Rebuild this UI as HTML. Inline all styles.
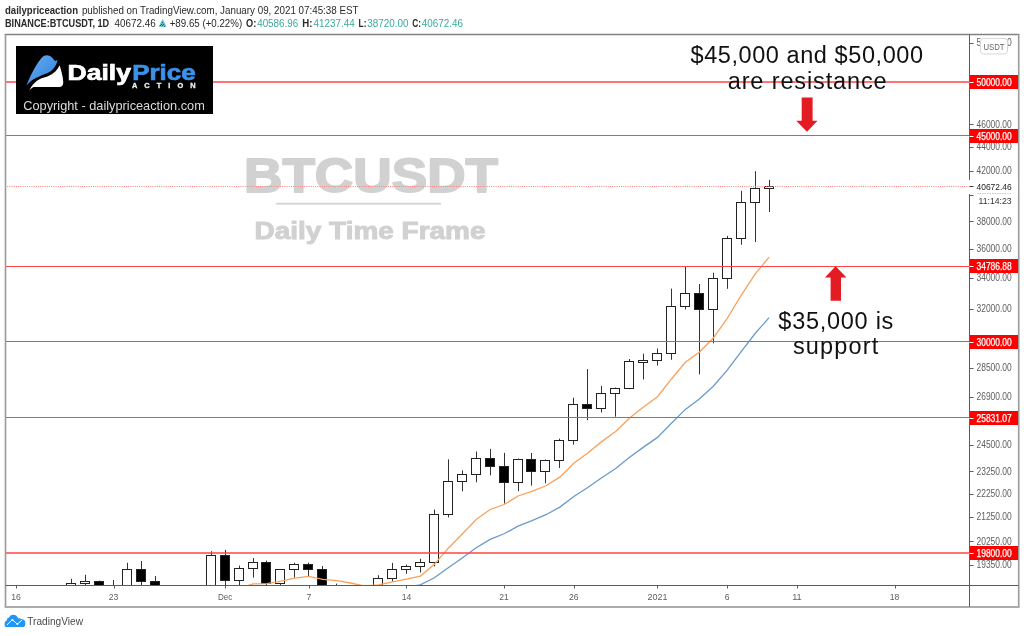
<!DOCTYPE html>
<html><head><meta charset="utf-8"><style>html,body{margin:0;padding:0;background:#fff;width:1024px;height:636px;overflow:hidden;position:relative}</style></head>
<body>
<svg width="1024" height="636" viewBox="0 0 1024 636" style="position:absolute;left:0;top:0;font-family:'Liberation Sans', sans-serif;will-change:transform"><defs><linearGradient id="bg" x1="0" y1="0" x2="1" y2="1"><stop offset="0" stop-color="#6aaef2"/><stop offset="1" stop-color="#2a80dc"/></linearGradient><clipPath id="cp"><rect x="6" y="35" width="963" height="550"/></clipPath></defs><rect x="0" y="0" width="1024" height="636" fill="#fff"/><text x="5" y="13.8" font-size="10.5" font-weight="bold" fill="#2a2a2a" text-anchor="start" textLength="73" lengthAdjust="spacingAndGlyphs" >dailypriceaction</text><text x="81.9" y="13.8" font-size="10.5" font-weight="normal" fill="#2a2a2a" text-anchor="start" textLength="276.6" lengthAdjust="spacingAndGlyphs" >published on TradingView.com, January 09, 2021 07:45:38 EST</text><text x="5" y="27.2" font-size="10.5" font-weight="bold" fill="#2a2a2a" text-anchor="start" textLength="104.2" lengthAdjust="spacingAndGlyphs" >BINANCE:BTCUSDT, 1D</text><text x="114.6" y="27.2" font-size="10.5" font-weight="normal" fill="#2a2a2a" text-anchor="start" textLength="41.1" lengthAdjust="spacingAndGlyphs" >40672.46</text><path d="M158.6,26.8 L162.6,19 L166.6,26.8 Z" fill="#5cc4b0"/><g fill="#2150b8"><rect x="162" y="22" width="1" height="1"/><rect x="161" y="24" width="1" height="1"/><rect x="163" y="24" width="1" height="1"/><rect x="160" y="25" width="1" height="1"/><rect x="162" y="25" width="1" height="1"/><rect x="164" y="26" width="1" height="1"/></g><text x="169.7" y="27.2" font-size="10.5" font-weight="normal" fill="#2a2a2a" text-anchor="start" textLength="72.5" lengthAdjust="spacingAndGlyphs" >+89.65 (+0.22%)</text><text x="246.1" y="27.2" font-size="10.5" font-weight="bold" fill="#2a2a2a" text-anchor="start" textLength="10.2" lengthAdjust="spacingAndGlyphs" >O:</text><text x="257.2" y="27.2" font-size="10.5" font-weight="normal" fill="#3aaa9c" text-anchor="start" textLength="41" lengthAdjust="spacingAndGlyphs" >40586.96</text><text x="302.3" y="27.2" font-size="10.5" font-weight="bold" fill="#2a2a2a" text-anchor="start" textLength="10.2" lengthAdjust="spacingAndGlyphs" >H:</text><text x="313.4" y="27.2" font-size="10.5" font-weight="normal" fill="#3aaa9c" text-anchor="start" textLength="41.3" lengthAdjust="spacingAndGlyphs" >41237.44</text><text x="358.6" y="27.2" font-size="10.5" font-weight="bold" fill="#2a2a2a" text-anchor="start" textLength="7.9" lengthAdjust="spacingAndGlyphs" >L:</text><text x="367.3" y="27.2" font-size="10.5" font-weight="normal" fill="#3aaa9c" text-anchor="start" textLength="41.3" lengthAdjust="spacingAndGlyphs" >38720.00</text><text x="412.2" y="27.2" font-size="10.5" font-weight="bold" fill="#2a2a2a" text-anchor="start" textLength="8.8" lengthAdjust="spacingAndGlyphs" >C:</text><text x="421.8" y="27.2" font-size="10.5" font-weight="normal" fill="#3aaa9c" text-anchor="start" textLength="41.3" lengthAdjust="spacingAndGlyphs" >40672.46</text><g clip-path="url(#cp)"><text x="244" y="192.1" font-size="47.8" font-weight="bold" fill="#d1d1d1" text-anchor="start" textLength="254" lengthAdjust="spacingAndGlyphs" stroke="#d1d1d1" stroke-width="1.8" stroke-linejoin="round">BTCUSDT</text><rect x="276" y="202.7" width="165" height="2" fill="#d6d6d6"/><text x="254.5" y="238.7" font-size="24.2" font-weight="bold" fill="#d1d1d1" text-anchor="start" textLength="231" lengthAdjust="spacingAndGlyphs" stroke="#d1d1d1" stroke-width="1" stroke-linejoin="round">Daily Time Frame</text><line x1="15.5" y1="630.4" x2="15.5" y2="639.5" stroke="#333" stroke-width="1"/><line x1="15.5" y1="641.5" x2="15.5" y2="664.4" stroke="#333" stroke-width="1"/><rect x="10.5" y="639.5" width="9" height="2.0" fill="#fff" stroke="#222" stroke-width="1"/><line x1="29.5" y1="605.3" x2="29.5" y2="611.5" stroke="#333" stroke-width="1"/><line x1="29.5" y1="639.5" x2="29.5" y2="643.8" stroke="#333" stroke-width="1"/><rect x="24.5" y="611.5" width="9" height="28.0" fill="#fff" stroke="#222" stroke-width="1"/><line x1="43.5" y1="588.0" x2="43.5" y2="607.5" stroke="#333" stroke-width="1"/><line x1="43.5" y1="611.5" x2="43.5" y2="623.8" stroke="#333" stroke-width="1"/><rect x="38.5" y="607.5" width="9" height="4.0" fill="#fff" stroke="#222" stroke-width="1"/><line x1="57.5" y1="596.3" x2="57.5" y2="606.5" stroke="#333" stroke-width="1"/><line x1="57.5" y1="608.5" x2="57.5" y2="620.4" stroke="#333" stroke-width="1"/><rect x="52.5" y="606.5" width="9" height="2.0" fill="#fff" stroke="#222" stroke-width="1"/><line x1="71.5" y1="578.8" x2="71.5" y2="583.5" stroke="#333" stroke-width="1"/><line x1="71.5" y1="606.5" x2="71.5" y2="608.7" stroke="#333" stroke-width="1"/><rect x="66.5" y="583.5" width="9" height="23.0" fill="#fff" stroke="#222" stroke-width="1"/><line x1="85.5" y1="574.8" x2="85.5" y2="581.5" stroke="#333" stroke-width="1"/><line x1="85.5" y1="583.5" x2="85.5" y2="590.1" stroke="#333" stroke-width="1"/><rect x="80.5" y="581.5" width="9" height="2.0" fill="#fff" stroke="#222" stroke-width="1"/><line x1="99.5" y1="580.6" x2="99.5" y2="581.5" stroke="#333" stroke-width="1"/><line x1="99.5" y1="589.5" x2="99.5" y2="612.4" stroke="#333" stroke-width="1"/><rect x="94.5" y="581.5" width="9" height="8.0" fill="#000" stroke="#222" stroke-width="1"/><line x1="113.5" y1="580.0" x2="113.5" y2="589.5" stroke="#333" stroke-width="1"/><line x1="113.5" y1="591.5" x2="113.5" y2="601.3" stroke="#333" stroke-width="1"/><rect x="108.5" y="589.5" width="9" height="2.0" fill="#000" stroke="#222" stroke-width="1"/><line x1="127.5" y1="562.8" x2="127.5" y2="569.5" stroke="#333" stroke-width="1"/><line x1="127.5" y1="591.5" x2="127.5" y2="600.8" stroke="#333" stroke-width="1"/><rect x="122.5" y="569.5" width="9" height="22.0" fill="#fff" stroke="#222" stroke-width="1"/><line x1="141.5" y1="561.0" x2="141.5" y2="569.5" stroke="#333" stroke-width="1"/><line x1="141.5" y1="581.5" x2="141.5" y2="585.6" stroke="#333" stroke-width="1"/><rect x="136.5" y="569.5" width="9" height="12.0" fill="#000" stroke="#222" stroke-width="1"/><line x1="155.5" y1="576.1" x2="155.5" y2="581.5" stroke="#333" stroke-width="1"/><line x1="155.5" y1="625.5" x2="155.5" y2="655.2" stroke="#333" stroke-width="1"/><rect x="150.5" y="581.5" width="9" height="44.0" fill="#000" stroke="#222" stroke-width="1"/><line x1="169.5" y1="616.9" x2="169.5" y2="625.5" stroke="#333" stroke-width="1"/><line x1="169.5" y1="627.5" x2="169.5" y2="647.4" stroke="#333" stroke-width="1"/><rect x="164.5" y="625.5" width="9" height="2.0" fill="#000" stroke="#222" stroke-width="1"/><line x1="183.5" y1="604.1" x2="183.5" y2="609.5" stroke="#333" stroke-width="1"/><line x1="183.5" y1="626.5" x2="183.5" y2="634.0" stroke="#333" stroke-width="1"/><rect x="178.5" y="609.5" width="9" height="17.0" fill="#fff" stroke="#222" stroke-width="1"/><line x1="197.5" y1="591.7" x2="197.5" y2="596.5" stroke="#333" stroke-width="1"/><line x1="197.5" y1="609.5" x2="197.5" y2="615.0" stroke="#333" stroke-width="1"/><rect x="192.5" y="596.5" width="9" height="13.0" fill="#fff" stroke="#222" stroke-width="1"/><line x1="211.5" y1="551.2" x2="211.5" y2="555.5" stroke="#333" stroke-width="1"/><line x1="211.5" y1="596.5" x2="211.5" y2="596.1" stroke="#333" stroke-width="1"/><rect x="206.5" y="555.5" width="9" height="41.0" fill="#fff" stroke="#222" stroke-width="1"/><line x1="225.5" y1="549.8" x2="225.5" y2="555.5" stroke="#333" stroke-width="1"/><line x1="225.5" y1="580.5" x2="225.5" y2="598.5" stroke="#333" stroke-width="1"/><rect x="220.5" y="555.5" width="9" height="25.0" fill="#000" stroke="#222" stroke-width="1"/><line x1="239.5" y1="565.6" x2="239.5" y2="568.5" stroke="#333" stroke-width="1"/><line x1="239.5" y1="580.5" x2="239.5" y2="592.1" stroke="#333" stroke-width="1"/><rect x="234.5" y="568.5" width="9" height="12.0" fill="#fff" stroke="#222" stroke-width="1"/><line x1="253.5" y1="558.0" x2="253.5" y2="562.5" stroke="#333" stroke-width="1"/><line x1="253.5" y1="568.5" x2="253.5" y2="577.6" stroke="#333" stroke-width="1"/><rect x="248.5" y="562.5" width="9" height="6.0" fill="#fff" stroke="#222" stroke-width="1"/><line x1="266.5" y1="560.6" x2="266.5" y2="562.5" stroke="#333" stroke-width="1"/><line x1="266.5" y1="583.5" x2="266.5" y2="585.5" stroke="#333" stroke-width="1"/><rect x="261.5" y="562.5" width="9" height="21.0" fill="#000" stroke="#222" stroke-width="1"/><line x1="280.5" y1="569.1" x2="280.5" y2="569.5" stroke="#333" stroke-width="1"/><line x1="280.5" y1="583.5" x2="280.5" y2="587.4" stroke="#333" stroke-width="1"/><rect x="275.5" y="569.5" width="9" height="14.0" fill="#fff" stroke="#222" stroke-width="1"/><line x1="294.5" y1="562.7" x2="294.5" y2="564.5" stroke="#333" stroke-width="1"/><line x1="294.5" y1="569.5" x2="294.5" y2="577.7" stroke="#333" stroke-width="1"/><rect x="289.5" y="564.5" width="9" height="5.0" fill="#fff" stroke="#222" stroke-width="1"/><line x1="308.5" y1="562.7" x2="308.5" y2="564.5" stroke="#333" stroke-width="1"/><line x1="308.5" y1="569.5" x2="308.5" y2="576.5" stroke="#333" stroke-width="1"/><rect x="303.5" y="564.5" width="9" height="5.0" fill="#000" stroke="#222" stroke-width="1"/><line x1="322.5" y1="566.0" x2="322.5" y2="569.5" stroke="#333" stroke-width="1"/><line x1="322.5" y1="592.5" x2="322.5" y2="595.7" stroke="#333" stroke-width="1"/><rect x="317.5" y="569.5" width="9" height="23.0" fill="#000" stroke="#222" stroke-width="1"/><line x1="336.5" y1="583.6" x2="336.5" y2="586.5" stroke="#333" stroke-width="1"/><line x1="336.5" y1="592.5" x2="336.5" y2="611.3" stroke="#333" stroke-width="1"/><rect x="331.5" y="586.5" width="9" height="6.0" fill="#fff" stroke="#222" stroke-width="1"/><line x1="350.5" y1="585.8" x2="350.5" y2="586.5" stroke="#333" stroke-width="1"/><line x1="350.5" y1="594.5" x2="350.5" y2="603.8" stroke="#333" stroke-width="1"/><rect x="345.5" y="586.5" width="9" height="8.0" fill="#000" stroke="#222" stroke-width="1"/><line x1="364.5" y1="593.1" x2="364.5" y2="594.5" stroke="#333" stroke-width="1"/><line x1="364.5" y1="600.5" x2="364.5" y2="613.5" stroke="#333" stroke-width="1"/><rect x="359.5" y="594.5" width="9" height="6.0" fill="#000" stroke="#222" stroke-width="1"/><line x1="378.5" y1="575.2" x2="378.5" y2="578.5" stroke="#333" stroke-width="1"/><line x1="378.5" y1="600.5" x2="378.5" y2="600.7" stroke="#333" stroke-width="1"/><rect x="373.5" y="578.5" width="9" height="22.0" fill="#fff" stroke="#222" stroke-width="1"/><line x1="392.5" y1="562.9" x2="392.5" y2="569.5" stroke="#333" stroke-width="1"/><line x1="392.5" y1="578.5" x2="392.5" y2="581.6" stroke="#333" stroke-width="1"/><rect x="387.5" y="569.5" width="9" height="9.0" fill="#fff" stroke="#222" stroke-width="1"/><line x1="406.5" y1="564.6" x2="406.5" y2="566.5" stroke="#333" stroke-width="1"/><line x1="406.5" y1="569.5" x2="406.5" y2="573.8" stroke="#333" stroke-width="1"/><rect x="401.5" y="566.5" width="9" height="3.0" fill="#fff" stroke="#222" stroke-width="1"/><line x1="420.5" y1="558.8" x2="420.5" y2="562.5" stroke="#333" stroke-width="1"/><line x1="420.5" y1="566.5" x2="420.5" y2="572.5" stroke="#333" stroke-width="1"/><rect x="415.5" y="562.5" width="9" height="4.0" fill="#fff" stroke="#222" stroke-width="1"/><line x1="434.5" y1="509.6" x2="434.5" y2="514.5" stroke="#333" stroke-width="1"/><line x1="434.5" y1="562.5" x2="434.5" y2="566.4" stroke="#333" stroke-width="1"/><rect x="429.5" y="514.5" width="9" height="48.0" fill="#fff" stroke="#222" stroke-width="1"/><line x1="448.5" y1="459.3" x2="448.5" y2="481.5" stroke="#333" stroke-width="1"/><line x1="448.5" y1="514.5" x2="448.5" y2="517.4" stroke="#333" stroke-width="1"/><rect x="443.5" y="481.5" width="9" height="33.0" fill="#fff" stroke="#222" stroke-width="1"/><line x1="462.5" y1="470.4" x2="462.5" y2="474.5" stroke="#333" stroke-width="1"/><line x1="462.5" y1="481.5" x2="462.5" y2="491.3" stroke="#333" stroke-width="1"/><rect x="457.5" y="474.5" width="9" height="7.0" fill="#fff" stroke="#222" stroke-width="1"/><line x1="476.5" y1="451.5" x2="476.5" y2="458.5" stroke="#333" stroke-width="1"/><line x1="476.5" y1="474.5" x2="476.5" y2="482.3" stroke="#333" stroke-width="1"/><rect x="471.5" y="458.5" width="9" height="16.0" fill="#fff" stroke="#222" stroke-width="1"/><line x1="490.5" y1="448.9" x2="490.5" y2="458.5" stroke="#333" stroke-width="1"/><line x1="490.5" y1="466.5" x2="490.5" y2="475.4" stroke="#333" stroke-width="1"/><rect x="485.5" y="458.5" width="9" height="8.0" fill="#000" stroke="#222" stroke-width="1"/><line x1="504.5" y1="452.9" x2="504.5" y2="466.5" stroke="#333" stroke-width="1"/><line x1="504.5" y1="482.5" x2="504.5" y2="503.6" stroke="#333" stroke-width="1"/><rect x="499.5" y="466.5" width="9" height="16.0" fill="#000" stroke="#222" stroke-width="1"/><line x1="518.5" y1="458.5" x2="518.5" y2="459.5" stroke="#333" stroke-width="1"/><line x1="518.5" y1="482.5" x2="518.5" y2="491.2" stroke="#333" stroke-width="1"/><rect x="513.5" y="459.5" width="9" height="23.0" fill="#fff" stroke="#222" stroke-width="1"/><line x1="531.5" y1="453.0" x2="531.5" y2="459.5" stroke="#333" stroke-width="1"/><line x1="531.5" y1="471.5" x2="531.5" y2="485.6" stroke="#333" stroke-width="1"/><rect x="526.5" y="459.5" width="9" height="12.0" fill="#000" stroke="#222" stroke-width="1"/><line x1="545.5" y1="459.5" x2="545.5" y2="460.5" stroke="#333" stroke-width="1"/><line x1="545.5" y1="471.5" x2="545.5" y2="483.3" stroke="#333" stroke-width="1"/><rect x="540.5" y="460.5" width="9" height="11.0" fill="#fff" stroke="#222" stroke-width="1"/><line x1="559.5" y1="438.6" x2="559.5" y2="440.5" stroke="#333" stroke-width="1"/><line x1="559.5" y1="460.5" x2="559.5" y2="467.9" stroke="#333" stroke-width="1"/><rect x="554.5" y="440.5" width="9" height="20.0" fill="#fff" stroke="#222" stroke-width="1"/><line x1="573.5" y1="397.7" x2="573.5" y2="404.5" stroke="#333" stroke-width="1"/><line x1="573.5" y1="440.5" x2="573.5" y2="444.6" stroke="#333" stroke-width="1"/><rect x="568.5" y="404.5" width="9" height="36.0" fill="#fff" stroke="#222" stroke-width="1"/><line x1="587.5" y1="369.1" x2="587.5" y2="404.5" stroke="#333" stroke-width="1"/><line x1="587.5" y1="408.5" x2="587.5" y2="420.3" stroke="#333" stroke-width="1"/><rect x="582.5" y="404.5" width="9" height="4.0" fill="#000" stroke="#222" stroke-width="1"/><line x1="601.5" y1="385.9" x2="601.5" y2="393.5" stroke="#333" stroke-width="1"/><line x1="601.5" y1="408.5" x2="601.5" y2="412.4" stroke="#333" stroke-width="1"/><rect x="596.5" y="393.5" width="9" height="15.0" fill="#fff" stroke="#222" stroke-width="1"/><line x1="615.5" y1="387.5" x2="615.5" y2="388.5" stroke="#333" stroke-width="1"/><line x1="615.5" y1="393.5" x2="615.5" y2="416.7" stroke="#333" stroke-width="1"/><rect x="610.5" y="388.5" width="9" height="5.0" fill="#fff" stroke="#222" stroke-width="1"/><line x1="629.5" y1="359.0" x2="629.5" y2="361.5" stroke="#333" stroke-width="1"/><line x1="629.5" y1="388.5" x2="629.5" y2="389.2" stroke="#333" stroke-width="1"/><rect x="624.5" y="361.5" width="9" height="27.0" fill="#fff" stroke="#222" stroke-width="1"/><line x1="643.5" y1="353.7" x2="643.5" y2="360.5" stroke="#333" stroke-width="1"/><line x1="643.5" y1="362.5" x2="643.5" y2="379.5" stroke="#333" stroke-width="1"/><rect x="638.5" y="360.5" width="9" height="2.0" fill="#fff" stroke="#222" stroke-width="1"/><line x1="657.5" y1="348.5" x2="657.5" y2="353.5" stroke="#333" stroke-width="1"/><line x1="657.5" y1="360.5" x2="657.5" y2="365.5" stroke="#333" stroke-width="1"/><rect x="652.5" y="353.5" width="9" height="7.0" fill="#fff" stroke="#222" stroke-width="1"/><line x1="671.5" y1="288.6" x2="671.5" y2="306.5" stroke="#333" stroke-width="1"/><line x1="671.5" y1="353.5" x2="671.5" y2="359.8" stroke="#333" stroke-width="1"/><rect x="666.5" y="306.5" width="9" height="47.0" fill="#fff" stroke="#222" stroke-width="1"/><line x1="685.5" y1="266.5" x2="685.5" y2="293.5" stroke="#333" stroke-width="1"/><line x1="685.5" y1="306.5" x2="685.5" y2="309.4" stroke="#333" stroke-width="1"/><rect x="680.5" y="293.5" width="9" height="13.0" fill="#fff" stroke="#222" stroke-width="1"/><line x1="699.5" y1="284.0" x2="699.5" y2="293.5" stroke="#333" stroke-width="1"/><line x1="699.5" y1="309.5" x2="699.5" y2="374.4" stroke="#333" stroke-width="1"/><rect x="694.5" y="293.5" width="9" height="16.0" fill="#000" stroke="#222" stroke-width="1"/><line x1="713.5" y1="272.7" x2="713.5" y2="278.5" stroke="#333" stroke-width="1"/><line x1="713.5" y1="309.5" x2="713.5" y2="343.3" stroke="#333" stroke-width="1"/><rect x="708.5" y="278.5" width="9" height="31.0" fill="#fff" stroke="#222" stroke-width="1"/><line x1="727.5" y1="235.9" x2="727.5" y2="238.5" stroke="#333" stroke-width="1"/><line x1="727.5" y1="278.5" x2="727.5" y2="288.8" stroke="#333" stroke-width="1"/><rect x="722.5" y="238.5" width="9" height="40.0" fill="#fff" stroke="#222" stroke-width="1"/><line x1="741.5" y1="190.8" x2="741.5" y2="202.5" stroke="#333" stroke-width="1"/><line x1="741.5" y1="238.5" x2="741.5" y2="244.8" stroke="#333" stroke-width="1"/><rect x="736.5" y="202.5" width="9" height="36.0" fill="#fff" stroke="#222" stroke-width="1"/><line x1="755.5" y1="171.2" x2="755.5" y2="188.5" stroke="#333" stroke-width="1"/><line x1="755.5" y1="202.5" x2="755.5" y2="242.0" stroke="#333" stroke-width="1"/><rect x="750.5" y="188.5" width="9" height="14.0" fill="#fff" stroke="#222" stroke-width="1"/><line x1="769.5" y1="179.9" x2="769.5" y2="186.5" stroke="#333" stroke-width="1"/><line x1="769.5" y1="188.5" x2="769.5" y2="212.0" stroke="#333" stroke-width="1"/><rect x="764.5" y="186.5" width="9" height="2.0" fill="#fff" stroke="#222" stroke-width="1"/><polyline points="15.93,667.32 29.88,656.61 43.82,647.35 57.77,639.75 71.72,628.97 85.66,620.07 99.61,614.42 113.56,610.09 127.51,602.47 141.45,598.57 155.40,603.43 169.35,607.50 183.29,607.82 197.24,605.67 211.19,596.18 225.13,593.23 239.08,588.62 253.03,583.80 266.98,583.70 280.92,581.17 294.87,578.06 308.82,576.47 322.76,579.30 336.71,580.56 350.66,583.01 364.60,586.11 378.55,584.81 392.50,581.93 406.45,579.10 420.39,576.05 434.34,564.37 448.29,548.20 462.23,533.95 476.18,519.45 490.13,509.46 504.07,504.53 518.02,495.97 531.97,491.45 545.92,485.75 559.86,477.16 573.81,463.22 587.76,452.91 601.70,441.62 615.65,431.45 629.60,417.91 643.54,406.92 657.49,396.71 671.44,378.97 685.39,362.26 699.33,352.16 713.28,338.01 727.23,318.35 741.17,295.27 755.12,274.02 769.07,257.04" fill="none" stroke="#f9a15a" stroke-width="1.3"/><polyline points="15.93,691.99 29.88,683.70 43.82,675.94 57.77,668.95 71.72,660.12 85.66,652.12 99.61,645.84 113.56,640.36 127.51,633.17 141.45,628.01 155.40,627.81 169.35,627.65 183.29,625.87 197.24,622.96 211.19,616.14 225.13,612.60 239.08,608.22 253.03,603.70 266.98,601.72 280.92,598.60 294.87,595.23 308.82,592.72 322.76,592.67 336.71,592.06 350.66,592.26 364.60,593.02 378.55,591.66 392.50,589.48 406.45,587.25 420.39,584.84 434.34,577.75 448.29,567.73 462.23,558.06 476.18,547.73 490.13,539.44 504.07,533.78 518.02,526.18 531.97,520.72 545.92,514.71 559.86,507.12 573.81,496.45 587.76,487.43 601.70,477.72 615.65,468.46 629.60,457.20 643.54,447.13 657.49,437.39 671.44,423.31 685.39,409.38 699.33,398.92 713.28,386.18 727.23,370.08 741.17,351.54 755.12,333.51 769.07,317.58" fill="none" stroke="#6a9acb" stroke-width="1.3"/><line x1="5" y1="82.0" x2="969.5" y2="82.0" stroke="#ff4545" stroke-width="1.5"/><line x1="5" y1="135.5" x2="969.5" y2="135.5" stroke="#ff4545" stroke-width="1"/><line x1="5" y1="266.5" x2="969.5" y2="266.5" stroke="#ff4545" stroke-width="1"/><line x1="5" y1="341.5" x2="969.5" y2="341.5" stroke="#ff4545" stroke-width="1"/><line x1="5" y1="417.5" x2="969.5" y2="417.5" stroke="#ff4545" stroke-width="1"/><line x1="5" y1="553.0" x2="969.5" y2="553.0" stroke="#ff4545" stroke-width="1.5"/><line x1="5" y1="186.5" x2="969.5" y2="186.5" stroke="#ff8080" stroke-width="1" stroke-dasharray="1 1.2"/></g><line x1="4.7" y1="34.5" x2="1019.3" y2="34.5" stroke="#828282" stroke-width="1.3"/><line x1="5.5" y1="34" x2="5.5" y2="607.5" stroke="#9a9a9a" stroke-width="1.6"/><line x1="1018.7" y1="34" x2="1018.7" y2="607.5" stroke="#9a9a9a" stroke-width="1.6"/><line x1="4.7" y1="607" x2="1019.5" y2="607" stroke="#ababab" stroke-width="2"/><line x1="969.5" y1="34.5" x2="969.5" y2="606.5" stroke="#5c5c5c" stroke-width="1"/><line x1="5.5" y1="585.5" x2="1018.5" y2="585.5" stroke="#5c5c5c" stroke-width="1"/><line x1="969.5" y1="43.5" x2="973.5" y2="43.5" stroke="#5c5c5c" stroke-width="1"/><text x="976.5" y="46.18070279050597" font-size="10.4" font-weight="normal" fill="#5e5e5e" text-anchor="start" textLength="35.2" lengthAdjust="spacingAndGlyphs" >54000.00</text><line x1="969.5" y1="124.5" x2="973.5" y2="124.5" stroke="#5c5c5c" stroke-width="1"/><text x="976.5" y="127.68287182371962" font-size="10.4" font-weight="normal" fill="#5e5e5e" text-anchor="start" textLength="35.2" lengthAdjust="spacingAndGlyphs" >46000.00</text><line x1="969.5" y1="147.5" x2="973.5" y2="147.5" stroke="#5c5c5c" stroke-width="1"/><text x="976.5" y="150.27770273847455" font-size="10.4" font-weight="normal" fill="#5e5e5e" text-anchor="start" textLength="35.2" lengthAdjust="spacingAndGlyphs" >44000.00</text><line x1="969.5" y1="171.5" x2="973.5" y2="171.5" stroke="#5c5c5c" stroke-width="1"/><text x="976.5" y="173.92382668569053" font-size="10.4" font-weight="normal" fill="#5e5e5e" text-anchor="start" textLength="35.2" lengthAdjust="spacingAndGlyphs" >42000.00</text><line x1="969.5" y1="221.5" x2="973.5" y2="221.5" stroke="#5c5c5c" stroke-width="1"/><text x="976.5" y="224.7962486702048" font-size="10.4" font-weight="normal" fill="#5e5e5e" text-anchor="start" textLength="35.2" lengthAdjust="spacingAndGlyphs" >38000.00</text><line x1="969.5" y1="249.5" x2="973.5" y2="249.5" stroke="#5c5c5c" stroke-width="1"/><text x="976.5" y="252.27861724188594" font-size="10.4" font-weight="normal" fill="#5e5e5e" text-anchor="start" textLength="35.2" lengthAdjust="spacingAndGlyphs" >36000.00</text><line x1="969.5" y1="278.5" x2="973.5" y2="278.5" stroke="#5c5c5c" stroke-width="1"/><text x="976.5" y="281.33223899673186" font-size="10.4" font-weight="normal" fill="#5e5e5e" text-anchor="start" textLength="35.2" lengthAdjust="spacingAndGlyphs" >34000.00</text><line x1="969.5" y1="309.5" x2="973.5" y2="309.5" stroke="#5c5c5c" stroke-width="1"/><text x="976.5" y="312.1477342660257" font-size="10.4" font-weight="normal" fill="#5e5e5e" text-anchor="start" textLength="35.2" lengthAdjust="spacingAndGlyphs" >32000.00</text><line x1="969.5" y1="368.5" x2="973.5" y2="368.5" stroke="#5c5c5c" stroke-width="1"/><text x="976.5" y="371.025046097445" font-size="10.4" font-weight="normal" fill="#5e5e5e" text-anchor="start" textLength="35.2" lengthAdjust="spacingAndGlyphs" >28500.00</text><line x1="969.5" y1="397.5" x2="973.5" y2="397.5" stroke="#5c5c5c" stroke-width="1"/><text x="976.5" y="400.39350217638525" font-size="10.4" font-weight="normal" fill="#5e5e5e" text-anchor="start" textLength="35.2" lengthAdjust="spacingAndGlyphs" >26900.00</text><line x1="969.5" y1="445.5" x2="973.5" y2="445.5" stroke="#5c5c5c" stroke-width="1"/><text x="976.5" y="447.8957480081154" font-size="10.4" font-weight="normal" fill="#5e5e5e" text-anchor="start" textLength="35.2" lengthAdjust="spacingAndGlyphs" >24500.00</text><line x1="969.5" y1="471.5" x2="973.5" y2="471.5" stroke="#5c5c5c" stroke-width="1"/><text x="976.5" y="474.5143950465671" font-size="10.4" font-weight="normal" fill="#5e5e5e" text-anchor="start" textLength="35.2" lengthAdjust="spacingAndGlyphs" >23250.00</text><line x1="969.5" y1="494.5" x2="973.5" y2="494.5" stroke="#5c5c5c" stroke-width="1"/><text x="976.5" y="496.8608506815204" font-size="10.4" font-weight="normal" fill="#5e5e5e" text-anchor="start" textLength="35.2" lengthAdjust="spacingAndGlyphs" >22250.00</text><line x1="969.5" y1="517.5" x2="973.5" y2="517.5" stroke="#5c5c5c" stroke-width="1"/><text x="976.5" y="520.2350837423392" font-size="10.4" font-weight="normal" fill="#5e5e5e" text-anchor="start" textLength="35.2" lengthAdjust="spacingAndGlyphs" >21250.00</text><line x1="969.5" y1="541.5" x2="973.5" y2="541.5" stroke="#5c5c5c" stroke-width="1"/><text x="976.5" y="544.7362120963663" font-size="10.4" font-weight="normal" fill="#5e5e5e" text-anchor="start" textLength="35.2" lengthAdjust="spacingAndGlyphs" >20250.00</text><line x1="969.5" y1="565.5" x2="973.5" y2="565.5" stroke="#5c5c5c" stroke-width="1"/><text x="976.5" y="567.8447368395821" font-size="10.4" font-weight="normal" fill="#5e5e5e" text-anchor="start" textLength="35.2" lengthAdjust="spacingAndGlyphs" >19350.00</text><rect x="970" y="75" width="48" height="14" fill="#ff0000"/><line x1="969.5" y1="82.5" x2="973.5" y2="82.5" stroke="#fff" stroke-width="1"/><text x="976.5" y="85.9" font-size="10.4" font-weight="normal" fill="#fff" text-anchor="start" textLength="35.2" lengthAdjust="spacingAndGlyphs" stroke="#fff" stroke-width="0.25">50000.00</text><rect x="970" y="129" width="48" height="14" fill="#ff0000"/><line x1="969.5" y1="136.5" x2="973.5" y2="136.5" stroke="#fff" stroke-width="1"/><text x="976.5" y="139.9" font-size="10.4" font-weight="normal" fill="#fff" text-anchor="start" textLength="35.2" lengthAdjust="spacingAndGlyphs" stroke="#fff" stroke-width="0.25">45000.00</text><rect x="970" y="259" width="48" height="14" fill="#ff0000"/><line x1="969.5" y1="266.5" x2="973.5" y2="266.5" stroke="#fff" stroke-width="1"/><text x="976.5" y="269.9" font-size="10.4" font-weight="normal" fill="#fff" text-anchor="start" textLength="35.2" lengthAdjust="spacingAndGlyphs" stroke="#fff" stroke-width="0.25">34786.88</text><rect x="970" y="335" width="48" height="14" fill="#ff0000"/><line x1="969.5" y1="342.5" x2="973.5" y2="342.5" stroke="#fff" stroke-width="1"/><text x="976.5" y="345.9" font-size="10.4" font-weight="normal" fill="#fff" text-anchor="start" textLength="35.2" lengthAdjust="spacingAndGlyphs" stroke="#fff" stroke-width="0.25">30000.00</text><rect x="970" y="411" width="48" height="14" fill="#ff0000"/><line x1="969.5" y1="418.5" x2="973.5" y2="418.5" stroke="#fff" stroke-width="1"/><text x="976.5" y="421.9" font-size="10.4" font-weight="normal" fill="#fff" text-anchor="start" textLength="35.2" lengthAdjust="spacingAndGlyphs" stroke="#fff" stroke-width="0.25">25831.07</text><rect x="970" y="546" width="48" height="14" fill="#ff0000"/><line x1="969.5" y1="553.5" x2="973.5" y2="553.5" stroke="#fff" stroke-width="1"/><text x="976.5" y="556.9" font-size="10.4" font-weight="normal" fill="#fff" text-anchor="start" textLength="35.2" lengthAdjust="spacingAndGlyphs" stroke="#fff" stroke-width="0.25">19800.00</text><rect x="969" y="180" width="49" height="14" fill="#fff"/><line x1="969.5" y1="186.5" x2="973.5" y2="186.5" stroke="#333" stroke-width="1"/><text x="976.5" y="190" font-size="9.8" font-weight="normal" fill="#222" text-anchor="start" textLength="35.2" lengthAdjust="spacingAndGlyphs" >40672.46</text><line x1="977" y1="193.5" x2="1012" y2="193.5" stroke="#c8c8c8" stroke-width="1" stroke-dasharray="1.5 1"/><text x="978.5" y="204" font-size="9.4" font-weight="normal" fill="#333" text-anchor="start" textLength="33.2" lengthAdjust="spacingAndGlyphs" >11:14:23</text><line x1="970.0" y1="195.5" x2="973.5" y2="195.5" stroke="#5c5c5c" stroke-width="1"/><rect x="980.5" y="38.5" width="27" height="15.5" rx="3" fill="#fff" stroke="#d8d8d8" stroke-width="1"/><text x="994" y="50" font-size="8.8" font-weight="normal" fill="#666" text-anchor="middle" textLength="21" lengthAdjust="spacingAndGlyphs" >USDT</text><line x1="16.5" y1="585.5" x2="16.5" y2="588.5" stroke="#5c5c5c" stroke-width="1"/><text x="15.93" y="600.3" font-size="9.8" font-weight="normal" fill="#5e5e5e" text-anchor="middle" textLength="9.6" lengthAdjust="spacingAndGlyphs" >16</text><line x1="114.5" y1="585.5" x2="114.5" y2="588.5" stroke="#5c5c5c" stroke-width="1"/><text x="113.559" y="600.3" font-size="9.8" font-weight="normal" fill="#5e5e5e" text-anchor="middle" textLength="9.6" lengthAdjust="spacingAndGlyphs" >23</text><line x1="225.5" y1="585.5" x2="225.5" y2="588.5" stroke="#5c5c5c" stroke-width="1"/><text x="225.135" y="600.3" font-size="9.8" font-weight="normal" fill="#5e5e5e" text-anchor="middle" textLength="14.5" lengthAdjust="spacingAndGlyphs" >Dec</text><line x1="309.5" y1="585.5" x2="309.5" y2="588.5" stroke="#5c5c5c" stroke-width="1"/><text x="308.817" y="600.3" font-size="9.8" font-weight="normal" fill="#5e5e5e" text-anchor="middle" textLength="4.8" lengthAdjust="spacingAndGlyphs" >7</text><line x1="406.5" y1="585.5" x2="406.5" y2="588.5" stroke="#5c5c5c" stroke-width="1"/><text x="406.44599999999997" y="600.3" font-size="9.8" font-weight="normal" fill="#5e5e5e" text-anchor="middle" textLength="9.6" lengthAdjust="spacingAndGlyphs" >14</text><line x1="504.5" y1="585.5" x2="504.5" y2="588.5" stroke="#5c5c5c" stroke-width="1"/><text x="504.075" y="600.3" font-size="9.8" font-weight="normal" fill="#5e5e5e" text-anchor="middle" textLength="9.6" lengthAdjust="spacingAndGlyphs" >21</text><line x1="574.5" y1="585.5" x2="574.5" y2="588.5" stroke="#5c5c5c" stroke-width="1"/><text x="573.81" y="600.3" font-size="9.8" font-weight="normal" fill="#5e5e5e" text-anchor="middle" textLength="9.6" lengthAdjust="spacingAndGlyphs" >26</text><line x1="657.5" y1="585.5" x2="657.5" y2="588.5" stroke="#5c5c5c" stroke-width="1"/><text x="657.492" y="600.3" font-size="9.8" font-weight="normal" fill="#5e5e5e" text-anchor="middle" textLength="20" lengthAdjust="spacingAndGlyphs" >2021</text><line x1="727.5" y1="585.5" x2="727.5" y2="588.5" stroke="#5c5c5c" stroke-width="1"/><text x="727.2269999999999" y="600.3" font-size="9.8" font-weight="normal" fill="#5e5e5e" text-anchor="middle" textLength="4.8" lengthAdjust="spacingAndGlyphs" >6</text><line x1="797.5" y1="585.5" x2="797.5" y2="588.5" stroke="#5c5c5c" stroke-width="1"/><text x="796.9619999999999" y="600.3" font-size="9.8" font-weight="normal" fill="#5e5e5e" text-anchor="middle" textLength="9.6" lengthAdjust="spacingAndGlyphs" >11</text><line x1="895.5" y1="585.5" x2="895.5" y2="588.5" stroke="#5c5c5c" stroke-width="1"/><text x="894.5909999999999" y="600.3" font-size="9.8" font-weight="normal" fill="#5e5e5e" text-anchor="middle" textLength="9.6" lengthAdjust="spacingAndGlyphs" >18</text><rect x="16" y="46" width="197" height="68" fill="#000"/><path d="M26.4,85.4 C31,74 37,63 42,57.5 C44.5,54.8 49,54.5 52,57.5 L55,61 L57.5,59.9 C56.5,66 52.5,71 47,73.2 C40,76 33,78 26.4,85.4 Z" fill="url(#bg)"/><path d="M29.2,91 C32,84 37,79.5 44,77.5 C52,75.5 57,71 59.6,65.2 C61,70 63,76 63.2,81.8 C63.4,85.5 62,87 59,87 L34,87 C32,87.5 30.5,89 29.2,91 Z" fill="#fff"/><text x="67.5" y="80.4" font-size="21.6" font-weight="bold" fill="#fff" text-anchor="start" textLength="63.5" lengthAdjust="spacingAndGlyphs" stroke="#fff" stroke-width="0.7">Daily</text><text x="132.3" y="80.4" font-size="21.6" font-weight="bold" fill="#3a92ea" text-anchor="start" textLength="63.3" lengthAdjust="spacingAndGlyphs" stroke="#3a92ea" stroke-width="0.7">Price</text><text x="132" y="88" font-size="7.4" font-weight="bold" fill="#f0f0f0" text-anchor="start" textLength="63.5" lengthAdjust="spacing" stroke="#f0f0f0" stroke-width="0.3">ACTION</text><text x="23.3" y="109.7" font-size="13.2" font-weight="normal" fill="#dcdcdc" text-anchor="start" textLength="181.5" lengthAdjust="spacingAndGlyphs" >Copyright - dailypriceaction.com</text><text x="806.75" y="63.2" font-size="23.5" font-weight="normal" fill="#111" text-anchor="middle" textLength="232.5" lengthAdjust="spacing" >$45,000 and $50,000</text><text x="807.2" y="88.8" font-size="23.5" font-weight="normal" fill="#111" text-anchor="middle" textLength="159" lengthAdjust="spacing" >are resistance</text><path d="M801.7,97.5 L812.6,97.5 L812.6,120.8 L817.5,120.8 L807,131.7 L796.2,120.8 L801.7,120.8 Z" fill="#e31b23"/><path d="M835.6,266.2 L846.5,277.5 L841,277.5 L841,300.8 L830.6,300.8 L830.6,277.5 L824.9,277.5 Z" fill="#e31b23"/><text x="835.85" y="328.8" font-size="23.5" font-weight="normal" fill="#111" text-anchor="middle" textLength="115" lengthAdjust="spacing" >$35,000 is</text><text x="835.65" y="354.2" font-size="23.5" font-weight="normal" fill="#111" text-anchor="middle" textLength="85.5" lengthAdjust="spacing" >support</text><path d="M6,626.9 L23.6,626.9 C25.6,626.9 25.9,622.2 24.6,620.6 C23.6,619.3 22.2,618.8 21.2,619 C20.2,618.3 19,618.2 18.2,618.5 C17.2,615.8 15.3,614.8 13.3,614.8 C11.1,614.8 9.6,616 9.1,617.6 C7.9,617.6 6.9,618.7 6.8,620.4 C5.2,620.8 4.5,622.2 4.6,624.2 C4.6,626.1 5,626.9 6,626.9 Z" fill="#2196f3"/><polyline points="6.8,625 12.4,619.7 17.4,624.2 22.2,619.8" fill="none" stroke="#fff" stroke-width="1"/><circle cx="12.4" cy="619.9" r="1" fill="#fff"/><circle cx="17.4" cy="624" r="1" fill="#fff"/><text x="27.3" y="624.5" font-size="10.5" font-weight="normal" fill="#4a4a4a" text-anchor="start" textLength="55.7" lengthAdjust="spacingAndGlyphs" >TradingView</text></svg>
</body></html>
